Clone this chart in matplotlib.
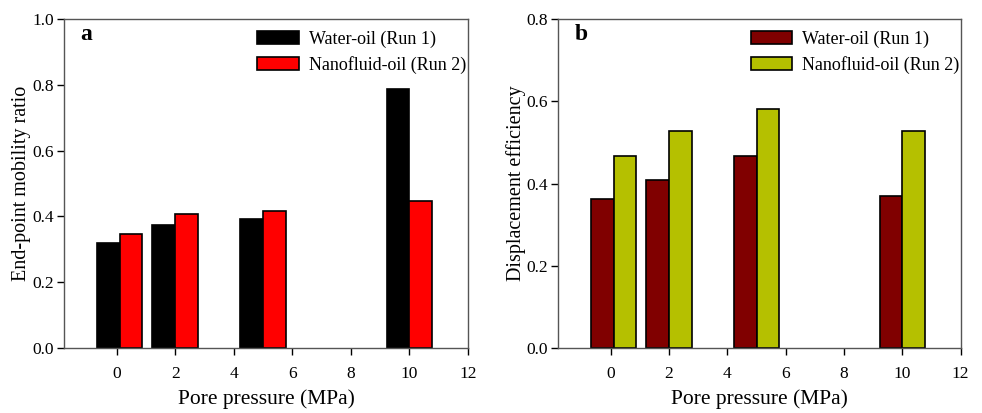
import matplotlib
matplotlib.use("Agg")
import matplotlib.pyplot as plt
import numpy as np

plt.rcParams['font.family'] = ['Liberation Serif', 'DejaVu Serif']

pressure = [0.1, 2, 5, 10]
mobility_water = [0.319, 0.374, 0.392, 0.787]
mobility_nano = [0.345, 0.406, 0.417, 0.446]
eff_water = [0.363, 0.409, 0.467, 0.370]
eff_nano = [0.468, 0.528, 0.582, 0.528]
xticks = [0, 2, 4, 6, 8, 10, 12]
labels = ["Water-oil (Run 1)", "Nanofluid-oil (Run 2)"]

W, H = 982, 413
fig = plt.figure(figsize=(W / 100, H / 100), dpi=100)

bw = 0.78
spine_col = '#555555'


def panel(rect, v1, v2, c1, c2, ylim, yticks, ylabel, letter):
    ax = fig.add_axes(rect)
    x = np.array(pressure)
    ax.bar(x - bw, v1, width=bw, align='edge', color=c1, edgecolor='black', linewidth=1.2, label=labels[0])
    ax.bar(x, v2, width=bw, align='edge', color=c2, edgecolor='black', linewidth=1.2, label=labels[1])
    ax.set_xlim(-1.8, 12)
    ax.set_ylim(*ylim)
    ax.set_xticks(xticks)
    ax.set_yticks(yticks)
    ax.set_yticklabels([f"{t:.1f}" for t in yticks])
    ax.tick_params(axis='both', direction='out', length=5, width=1, labelsize=12.5, colors='black')
    ax.tick_params(axis='x', pad=8)
    ax.tick_params(axis='y', pad=2.5)
    ax.tick_params(top=False, right=False)
    for s in ax.spines.values():
        s.set_color(spine_col)
        s.set_linewidth(1.0)
    ax.set_xlabel("Pore pressure (MPa)", fontsize=15.5, labelpad=5)
    ax.set_ylabel(ylabel, fontsize=14.5, labelpad=0.5)
    ax.text(0.04, 0.985, letter, transform=ax.transAxes, fontsize=17, fontweight='bold', va='top', ha='left')
    ax.legend(loc='upper left', bbox_to_anchor=(0.478, 0.965), frameon=False, fontsize=13,
              handlelength=2.3, handleheight=0.8, handletextpad=0.55, labelspacing=0.45,
              borderpad=0, borderaxespad=0)
    return ax


panel([64 / W, 65 / H, 404 / W, 329 / H], mobility_water, mobility_nano, 'black', '#ff0000',
      (0, 1.0), [0.0, 0.2, 0.4, 0.6, 0.8, 1.0], "End-point mobility ratio", 'a')
panel([558.3 / W, 65 / H, 402.4 / W, 329 / H], eff_water, eff_nano, '#800000', '#b5c000',
      (0, 0.8), [0.0, 0.2, 0.4, 0.6, 0.8], "Displacement efficiency", 'b')

fig.savefig("out.png", dpi=100)
